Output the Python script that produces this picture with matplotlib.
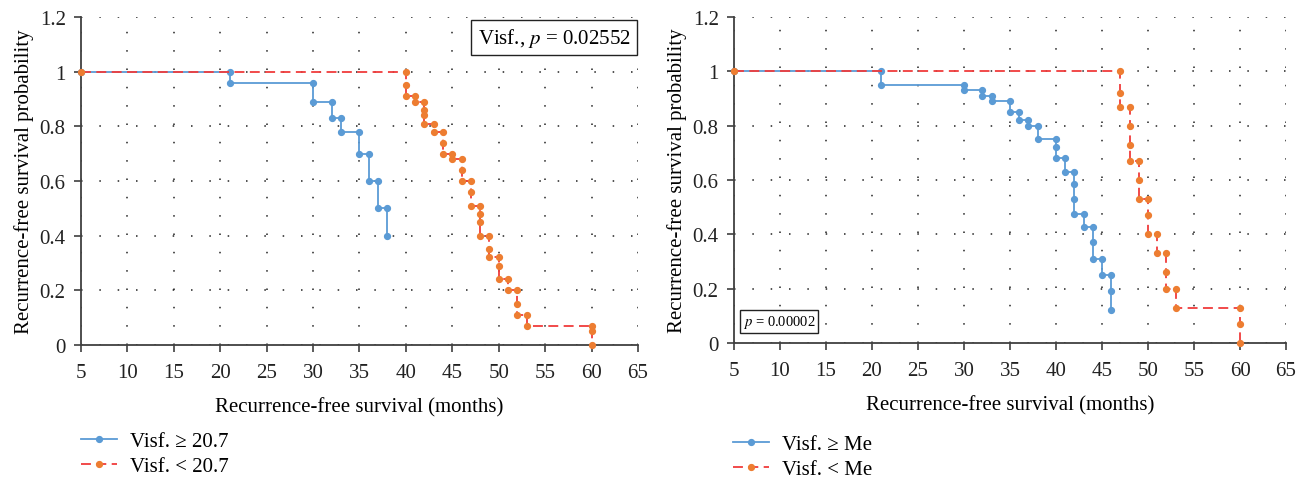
import numpy as np
import matplotlib
matplotlib.use("Agg")
import matplotlib.pyplot as plt

plt.rcParams['font.family'] = ['Liberation Serif', 'DejaVu Serif']
plt.rcParams['mathtext.fontset'] = 'stix'

left_hi = [(5, [1.0]), (21, [1.0, 0.96]), (30, [0.96, 0.89]), (32, [0.89, 0.83]),
           (33, [0.83, 0.78]), (35, [0.78, 0.70]), (36, [0.70, 0.60]),
           (37, [0.60, 0.50]), (38, [0.50, 0.40])]
left_lo = [(5, [1.0]), (40, [1.0, 0.95, 0.91]), (41, [0.91, 0.89]),
           (42, [0.89, 0.86, 0.84, 0.81]), (43, [0.81, 0.78]), (44, [0.78, 0.74, 0.70]),
           (45, [0.70, 0.68]), (46, [0.68, 0.64, 0.60]), (47, [0.60, 0.56, 0.51]),
           (48, [0.51, 0.48, 0.45, 0.40]), (49, [0.40, 0.35, 0.32]),
           (50, [0.32, 0.29, 0.24]), (51, [0.24, 0.20]), (52, [0.20, 0.15, 0.11]),
           (53, [0.11, 0.07]), (60, [0.07, 0.05, 0.0])]
right_hi = [(5, [1.0]), (21, [1.0, 0.95]), (30, [0.95, 0.93]), (32, [0.93, 0.91]),
            (33, [0.91, 0.89]), (35, [0.89, 0.85]), (36, [0.85, 0.82]), (37, [0.82, 0.80]),
            (38, [0.80, 0.75]), (40, [0.75, 0.72, 0.68]), (41, [0.68, 0.63]),
            (42, [0.63, 0.585, 0.53, 0.475]), (43, [0.475, 0.425]),
            (44, [0.425, 0.37, 0.31]), (45, [0.31, 0.25]), (46, [0.25, 0.19, 0.12])]
right_lo = [(5, [1.0]), (47, [1.0, 0.92, 0.87]), (48, [0.87, 0.80, 0.73, 0.67]),
            (49, [0.67, 0.60, 0.53]), (50, [0.53, 0.47, 0.40]), (51, [0.40, 0.33]),
            (52, [0.33, 0.26, 0.20]), (53, [0.20, 0.13]), (60, [0.13, 0.07, 0.0])]

labels_left = ["Visf. \u2265 20.7", "Visf. < 20.7"]
labels_right = ["Visf. \u2265 Me", "Visf. < Me"]

xticks = np.arange(5, 66, 5)
yticks = [0, 0.2, 0.4, 0.6, 0.8, 1.0, 1.2]
ytick_labels = ["0", "0.2", "0.4", "0.6", "0.8", "1", "1.2"]

blue = '#5B9BD5'
red_line = '#F03C3C'
orange = '#ED7D31'


def flatten(curve):
    xs, ys = [], []
    for t, vals in curve:
        for v in vals:
            xs.append(t)
            ys.append(v)
    return xs, ys


def style_axes(ax):
    ax.set_xlim(5, 65)
    ax.set_ylim(0, 1.2)
    ax.set_xticks(xticks)
    ax.set_yticks(yticks)
    ax.set_yticklabels(ytick_labels)
    ax.grid(True, linestyle=(0, (1, 11)), color='#222222', linewidth=1.1)
    ax.set_axisbelow(True)
    for s in ['top', 'right']:
        ax.spines[s].set_visible(False)
    for s in ['left', 'bottom']:
        ax.spines[s].set_color('#404040')
        ax.spines[s].set_linewidth(1.3)
    ax.tick_params(direction='out', length=5, width=1.2, color='#404040',
                   labelsize=15, colors='#222222')
    ax.tick_params(axis='x', pad=8)
    ax.tick_params(axis='y', pad=6)
    ax.set_xlabel("Recurrence-free survival (months)", fontsize=15, labelpad=11)
    ax.set_ylabel("Recurrence-free survival probability", fontsize=15, labelpad=4)


def draw(ax, hi, lo, labels):
    x1, y1 = flatten(hi)
    x2, y2 = flatten(lo)
    l1, = ax.plot(x1, y1, color=blue, lw=1.3, marker='o', ms=4.2,
                  label=labels[0], clip_on=False, zorder=3)
    l2, = ax.plot(x2, y2, color=red_line, lw=1.3, dashes=(5.5, 3), marker='o', ms=4.2,
                  mfc=orange, mec=orange, label=labels[1], clip_on=False, zorder=4)
    return [l1, l2]


fig = plt.figure(figsize=(13.06, 4.81), dpi=100)
ax1 = fig.add_axes([0.062, 0.281, 0.4265, 0.6816])
ax2 = fig.add_axes([0.562, 0.285, 0.4227, 0.6776])

for ax in (ax1, ax2):
    style_axes(ax)

h1 = draw(ax1, left_hi, left_lo, labels_left)
h2 = draw(ax2, right_hi, right_lo, labels_right)

ax1.text(0.987, 0.972, "Visf., $p$ = 0.02552", transform=ax1.transAxes, ha='right', va='top',
         fontsize=15, bbox=dict(boxstyle='square,pad=0.3', fc='white', ec='#222222', lw=1.0))
ax2.text(0.016, 0.04, "$p$ = 0.00002", transform=ax2.transAxes, ha='left', va='bottom',
         fontsize=10.5, bbox=dict(boxstyle='square,pad=0.2', fc='white', ec='#222222', lw=1.0))

leg_kw = dict(loc='upper left', frameon=False, fontsize=15, handlelength=1.75,
              handletextpad=0.6, labelspacing=0.25, borderpad=0, borderaxespad=0)
fig.legend(handles=h1, bbox_to_anchor=(0.062, 0.1), **leg_kw)
fig.legend(handles=h2, bbox_to_anchor=(0.561, 0.094), **leg_kw)

fig.savefig('out.png', dpi=100)
